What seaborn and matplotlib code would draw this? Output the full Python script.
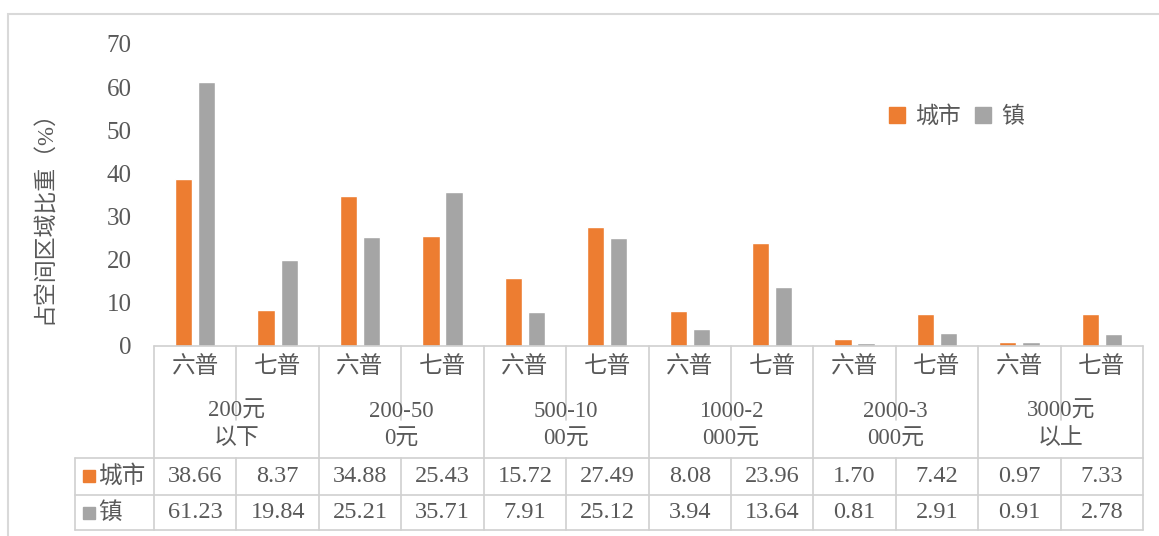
import matplotlib
matplotlib.use("Agg")
import matplotlib.pyplot as plt
import matplotlib.transforms as mtransforms
from matplotlib.lines import Line2D
from matplotlib.patches import Rectangle
import pandas as pd
import seaborn as sns

# Rent ranges (two-line labels), census rounds, and shares (%) per area type
groups = ["200元\n以下", "200-50\n0元", "500-10\n00元", "1000-2\n000元", "2000-3\n000元", "3000元\n以上"]
rounds = ["六普", "七普"]
series_names = ["城市", "镇"]
city = [38.66, 8.37, 34.88, 25.43, 15.72, 27.49, 8.08, 23.96, 1.70, 7.42, 0.97, 7.33]
town = [61.23, 19.84, 25.21, 35.71, 7.91, 25.12, 3.94, 13.64, 0.81, 2.91, 0.91, 2.78]
y_ticks = [0, 10, 20, 30, 40, 50, 60, 70]
y_label = "占空间区域比重（%）"

colors = {"城市": "#ED7D31", "镇": "#A5A5A5"}
text_color = "#595959"
line_color = "#D0D0D0"

sns.set_theme(style="white")
plt.rcParams["font.family"] = ["Liberation Serif", "Noto Sans CJK SC"]

keys = [f"{g}|{r}" for g in groups for r in rounds]
df = pd.DataFrame({
    "cat": keys * 2,
    "series": [series_names[0]] * len(keys) + [series_names[1]] * len(keys),
    "value": city + town,
})

W, H = 1159, 536
fig = plt.figure(figsize=(W / 100, H / 100), dpi=100)
fig.patch.set_facecolor("white")

def fx(px):
    return px / W

def fy(py):
    return 1 - py / H

x0, x1 = 154, 1143
ax = fig.add_axes([fx(x0), fy(346), fx(x1) - fx(x0), fy(44) - fy(346)])
sns.barplot(data=df, x="cat", y="value", hue="series", order=keys,
            hue_order=series_names, palette=colors, width=0.56, gap=0.25,
            saturation=1, ax=ax)
ax.set_xlim(-0.5, len(keys) - 0.5)
ax.set_ylim(0, 70)
ax.set_yticks(y_ticks)
ax.set_yticklabels([str(t) for t in y_ticks], fontsize=18, color=text_color)
ax.tick_params(axis="y", length=0, pad=16)
ax.set_xticks([])
ax.set_xlabel("")
ax.set_ylabel("")
for s in ax.spines.values():
    s.set_visible(False)

# Legend
handles = [Rectangle((0, 0), 1, 1, color=colors[n]) for n in series_names]
leg = ax.legend(handles, series_names, loc="upper left", bbox_to_anchor=(0.722, 0.862),
                ncol=2, frameon=False, handlelength=0.7, handleheight=0.7,
                handletextpad=0.45, columnspacing=0.6, fontsize=16.5)
for t in leg.get_texts():
    t.set_color(text_color)

fig.text(fx(45), fy(212), y_label, rotation=90, ha="center", va="center",
         fontsize=16.5, color=text_color)

# Data table under the axis
tr = mtransforms.blended_transform_factory(ax.transData, fig.transFigure)
ftr = fig.transFigure

def hline(xa, xb, py, transform):
    fig.add_artist(Line2D([xa, xb], [fy(py)] * 2, transform=transform,
                          color=line_color, lw=1.2))

def vline(x, pya, pyb, transform):
    fig.add_artist(Line2D([x, x], [fy(pya), fy(pyb)], transform=transform,
                          color=line_color, lw=1.2))

y_top, y_grp_mid, y_r1, y_r2, y_bot = 346, 420, 458, 495, 530
hline(-0.5, len(keys) - 0.5, y_top, tr)
for py in (y_r1, y_r2, y_bot):
    hline(fx(75), fx(x1), py, ftr)
vline(fx(75), y_r1, y_bot, ftr)
for i in range(len(keys) + 1):
    xb = i - 0.5
    if i % 2 == 0:
        vline(xb, y_top, y_bot, tr)
    else:
        vline(xb, y_top, y_grp_mid, tr)
        vline(xb, y_r1, y_bot, tr)

for i, k in enumerate(keys):
    g, r = k.split("|")
    ax_text_kw = dict(transform=tr, ha="center", va="center", color=text_color)
    fig.text(i, fy(367), r, fontsize=17, **ax_text_kw)
    fig.text(i, fy(476), f"{city[i]:.2f}", fontsize=17.5, **ax_text_kw)
    fig.text(i, fy(513), f"{town[i]:.2f}", fontsize=17.5, **ax_text_kw)
for j, g in enumerate(groups):
    fig.text(2 * j + 0.5, fy(425), g, transform=tr, ha="center", va="center",
             fontsize=16.5, color=text_color, linespacing=1.4)

# Series keys in the table's first column
for py, name in ((476, series_names[0]), (513, series_names[1])):
    fig.add_artist(Rectangle((fx(83), fy(py + 6)), fx(12), fy(0) - fy(12),
                             transform=ftr, color=colors[name]))
    fig.text(fx(98), fy(py), name, ha="left", va="center", fontsize=17,
             color=text_color)

# Outer chart frame
fig.add_artist(Rectangle((fx(8), -0.01), 1.0, fy(14) + 0.01, transform=ftr,
                         fill=False, edgecolor="#D9D9D9", lw=1.5))

fig.savefig("out.png", dpi=100, facecolor="white")
